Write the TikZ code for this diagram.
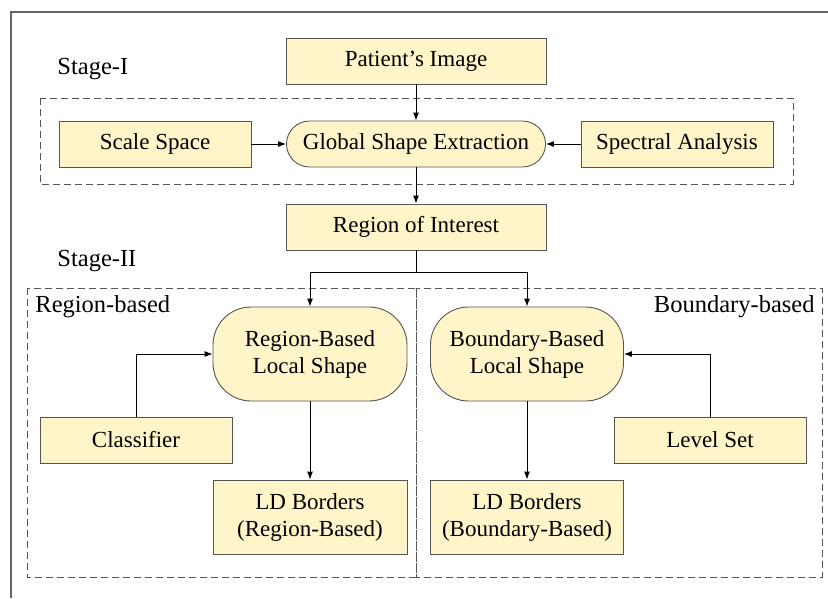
\documentclass[tikz,border=0pt]{standalone}
\usepackage{fontspec}
\setmainfont{Liberation Serif}
\newfontfamily\figfont{Liberation Serif}
\usetikzlibrary{arrows.meta}
\definecolor{boxfill}{RGB}{255,245,200}
\definecolor{boxline}{RGB}{85,85,85}
\begin{document}
\begin{tikzpicture}
[x=1pt,y=-1pt,line width=0.9pt,>={Latex[length=8pt,width=6pt]},
 box/.style={draw=boxline,fill=boxfill,align=center,inner sep=0pt,
   minimum width=192pt,minimum height=46pt,font=\figfont\fontsize{23}{27}\selectfont},
 pill/.style={box,rounded corners=23pt},
 bigpill/.style={box,minimum height=94pt,rounded corners=38pt},
 group/.style={draw=boxline,dash pattern=on 7pt off 4pt},
 stage/.style={font=\figfont\fontsize{24.5}{28}\selectfont,inner sep=0pt}]
\useasboundingbox (0,0) rectangle (828,598);
\draw[boxline!90,line width=1.2pt] (11,598) -- (11,12) -- (828,12);
% stage I
\draw[group] (40,98) rectangle (793,184);
\node[stage,anchor=west] (s1) at (57,69) {Stage-I};
\node[box,minimum width=260pt] (img) at (416,61) {Patient’s Image};
\node[box] (scale) at (155,144) {Scale Space};
\node[pill,minimum width=259pt] (gse) at (416,144) {Global Shape Extraction};
\node[box] (spec) at (677,144) {Spectral Analysis};
\node[box,minimum width=260pt] (roi) at (416,227) {Region of Interest};
% stage II
\node[stage,anchor=west] (s2) at (57,261) {Stage-II};
\draw[group] (27,288) rectangle (416,577);
\draw[group] (416,288) rectangle (822,577);
\node[stage,anchor=west] (rb) at (35,307) {Region-based};
\node[stage,anchor=east] (bb) at (815,307) {Boundary-based};
\node[bigpill,minimum width=194pt] (rls) at (310,354) {Region-Based\\Local Shape};
\node[bigpill,minimum width=193pt] (bls) at (527,354) {Boundary-Based\\Local Shape};
\node[box] (cls) at (136,440) {Classifier};
\node[box] (lvl) at (710,440) {Level Set};
\node[box,minimum width=194pt,minimum height=74pt] (ldr) at (310,517) {LD Borders\\(Region-Based)};
\node[box,minimum width=193pt,minimum height=74pt] (ldb) at (527,517) {LD Borders\\(Boundary-Based)};
\coordinate (split) at (416,272);
% arrows
\draw[->] (img) -- (gse);
\draw[->] (scale) -- (gse);
\draw[->] (spec) -- (gse);
\draw[->] (gse) -- (roi);
\draw (roi) -- (split);
\draw[->] (split) -| (rls);
\draw[->] (split) -| (bls);
\draw[->] (cls) |- (rls.west);
\draw[->] (lvl) |- (bls.east);
\draw[->] (rls) -- (ldr);
\draw[->] (bls) -- (ldb);
\end{tikzpicture}
\end{document}
